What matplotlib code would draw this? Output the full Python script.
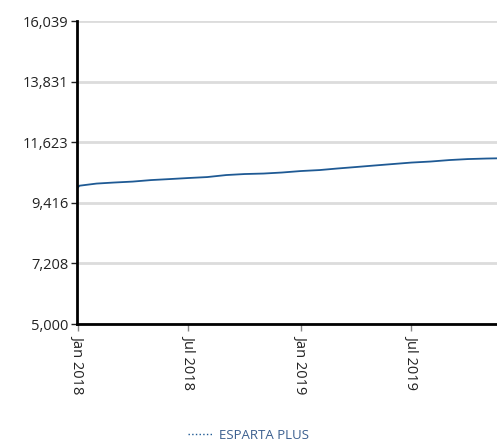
import pandas as pd
import matplotlib.pyplot as plt
import matplotlib.dates as mdates
from matplotlib.ticker import FixedLocator, FuncFormatter

plt.rcParams['font.family'] = ['Open Sans', 'DejaVu Sans']

#series (monthly)
dates = pd.to_datetime(['2018-01-01', '2018-01-04', '2018-02-01', '2018-03-01', '2018-04-01',
                        '2018-05-01', '2018-06-01', '2018-07-01', '2018-08-01', '2018-09-01',
                        '2018-10-01', '2018-11-01', '2018-12-01', '2019-01-01', '2019-02-01',
                        '2019-03-01', '2019-04-01', '2019-05-01', '2019-06-01', '2019-07-01',
                        '2019-08-01', '2019-09-01', '2019-10-01', '2019-11-01', '2019-11-18'])
values = [9970, 10040, 10118, 10155, 10190, 10245, 10282, 10320, 10355, 10428,
          10465, 10483, 10520, 10574, 10610, 10665, 10720, 10775, 10830, 10883,
          10920, 10974, 11010, 11030, 11037]
series_name = 'ESPARTA PLUS'
y_ticks = [5000, 7208, 9416, 11623, 13831, 16039]
x_ticks = pd.to_datetime(['2018-01-01', '2018-07-01', '2019-01-01', '2019-07-01'])

line_color = '#1f5a94'

fig = plt.figure(figsize=(4.97, 4.47), dpi=100)
ax = fig.add_axes([0.155, 0.275, 0.845, 0.678])

ax.plot(dates, values, color=line_color, lw=1.3)

ax.set_ylim(y_ticks[0], y_ticks[-1])
ax.yaxis.set_major_locator(FixedLocator(y_ticks))
ax.yaxis.set_major_formatter(FuncFormatter(lambda v, p: '{:,.0f}'.format(v)))
ax.set_xlim(pd.Timestamp('2017-12-31'), pd.Timestamp('2019-11-18'))
ax.set_xticks(x_ticks)
ax.xaxis.set_major_formatter(mdates.DateFormatter('%b %Y'))
plt.setp(ax.get_xticklabels(), rotation=-90, va='top', ha='center')

ax.grid(axis='y', color='#dcdcdc', lw=2)
ax.set_axisbelow(True)
for s in ['top', 'right']:
    ax.spines[s].set_visible(False)
ax.spines['left'].set_linewidth(2)
ax.spines['bottom'].set_linewidth(2)
ax.tick_params(axis='y', length=4, width=1, labelsize=10.5, colors='#222222', pad=2)
ax.tick_params(axis='x', length=5, width=1, color='#888888', labelsize=10.5, labelcolor='#222222', pad=3)

h, = ax.plot([], [], color=line_color, lw=1, ls=':')
leg = fig.legend([h], [series_name], loc='lower center', bbox_to_anchor=(0.5, -0.015),
                 frameon=False, fontsize=9.5, handlelength=1.8, handletextpad=0.5)
for t in leg.get_texts():
    t.set_color('#3b5f8f')

fig.savefig('out.png', dpi=100)
